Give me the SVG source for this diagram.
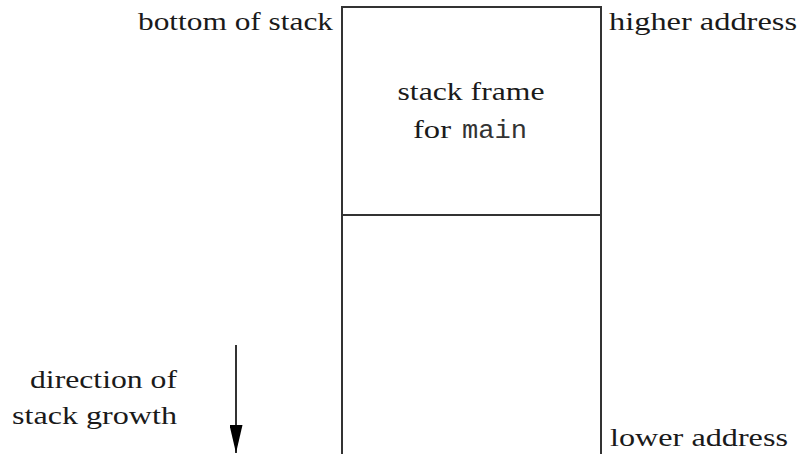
<svg xmlns="http://www.w3.org/2000/svg" width="801" height="454" viewBox="0 0 801 454">
<style>
.t{font-family:'Liberation Serif','DejaVu Serif',serif;font-size:26px;fill:#1a1a1a}
.m{font-family:'Liberation Mono','DejaVu Sans Mono',monospace;font-size:25px;fill:#333}
.ln{stroke:#333;stroke-width:2;fill:none}
</style>
<defs>
<marker id="ah" markerWidth="28" markerHeight="13" refX="28" refY="6.5" orient="auto" markerUnits="userSpaceOnUse" viewBox="0 0 28 13">
<path d="M0,0 L28,6.5 L0,13 Z" fill="#000"/>
</marker>
</defs>
<g id="stack">
<path class="ln" d="M342,454 L342,7 L601,7 L601,454"/>
</g>
<g id="frame-main">
<line class="ln" x1="342" y1="215" x2="601" y2="215"/>
<text class="t" x="471" y="100" text-anchor="middle" textLength="147" lengthAdjust="spacingAndGlyphs">stack frame</text>
<text class="t" x="413" y="138" textLength="38" lengthAdjust="spacingAndGlyphs">for</text>
<text class="m" x="462" y="138" textLength="65" lengthAdjust="spacingAndGlyphs">main</text>
</g>
<g id="labels">
<text class="t" x="333" y="30" text-anchor="end" textLength="195" lengthAdjust="spacingAndGlyphs">bottom of stack</text>
<text class="t" x="609" y="30" textLength="188" lengthAdjust="spacingAndGlyphs">higher address</text>
<text class="t" x="610" y="446" textLength="178" lengthAdjust="spacingAndGlyphs">lower address</text>
<text class="t" x="177" y="388" text-anchor="end" textLength="147" lengthAdjust="spacingAndGlyphs">direction of</text>
<text class="t" x="177" y="424" text-anchor="end" textLength="165" lengthAdjust="spacingAndGlyphs">stack growth</text>
</g>
<g id="connectors">
<line x1="236" y1="345" x2="236" y2="453" stroke="#333" stroke-width="2" marker-end="url(#ah)"/>
</g>
</svg>
